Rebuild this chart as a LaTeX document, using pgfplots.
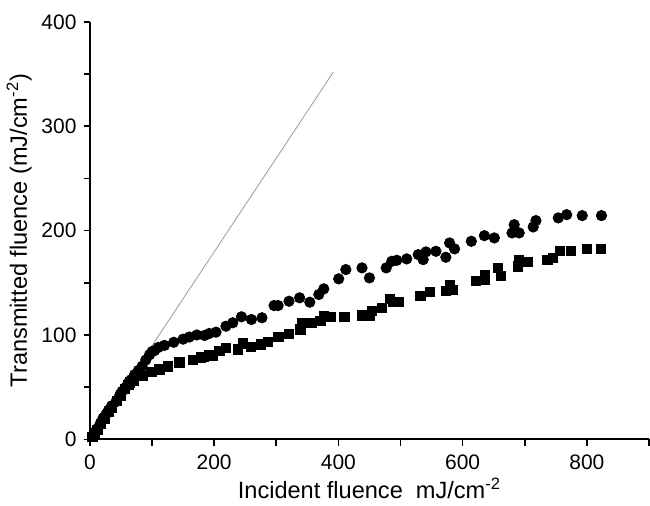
\documentclass[border=0pt]{standalone}
\usepackage{fontspec}
\setmainfont{Liberation Sans}
\usepackage{pgfplots}
\pgfplotsset{compat=1.18}
\begin{document}
\begin{tikzpicture}
\begin{axis}[
  scale only axis,
  width=280pt, height=209pt,
  xmin=0, xmax=900, ymin=0, ymax=400,
  axis x line=bottom, axis y line=left,
  axis line style={-, line width=1pt},
  tick align=outside,
  xtick={0,200,400,600,800},
  minor xtick={100,300,500,700,900},
  ytick={0,100,200,300,400},
  minor ytick={50,150,250,350},
  major tick length=3.2pt, minor tick length=3.2pt,
  tick style={line width=0.8pt, black},
  /pgf/number format/assume math mode=true,
  ticklabel style={font=\fontsize{10.5}{12}\selectfont},
  xticklabel style={yshift=-1pt},
  xlabel={Incident fluence\ \ mJ/cm\textsuperscript{-2}},
  ylabel={Transmitted fluence (mJ/cm\textsuperscript{-2})},
  label style={font=\fontsize{11.8}{13}\selectfont},
  xlabel style={yshift=2.5pt},
  ylabel style={yshift=-2pt},
  clip=false,
]
\path (rel axis cs:0,1) ++(0,11pt);
\addplot[gray!80, line width=0.4pt] coordinates {(0,0) (392,352)};
% squares
\addplot[only marks, mark=square*, mark size=2.3pt, black] coordinates {
(4,2) (8,5) (12,9) (18,15) (24,20) (30,26) (36,30) (44,37) (50,42) (56,48) (62,52)
(64,54.5) (70,55.8) (85,60.6) (99,64.4) (112,67) (126,69.9) (144,73.7) (166,75.9) (179,78.5) (198,80.4)
(183.5,79.1) (192.5,80.4) (208.5,84.5) (219,87.7) (238,86.1) (246,91.9) (259,88.7) (275,90.9) (286,93.1)
(303.5,98.3) (320.5,101.4) (339,105.3) (342,111.7) (358,111.7) (371,113.2) (376.5,118) (387,117.4) (409.6,117.4)
(438,118.7) (451,118) (454,122.8) (470,126) (483,134.6) (487.5,131.4) (496.5,131.4) (532,137.1) (547,141)
(573,141.9) (579,148.3) (584.5,142.9) (621,152.2) (636,157.9) (636,153.1)
(656.5,164.3) (662,157) (688.5,165.8) (690,172.2) (704.5,169.7) (736.5,172.2) (745.6,173.9) (757,180.9)
(774,180.2) (799.5,182.5) (822,182.5)
};
% circles
\addplot[only marks, mark=*, mark size=2.6pt, black] coordinates {
(4,3) (8,7) (12,10) (16,14) (21,20) (26,24) (30,28) (35,32) (42,36) (48,42) (52,46) (58,50) (62,54)
(66,57) (72,62) (78,66) (84,70) (90,76) (96,81) (100,84) (104,85) (110,88) (120,90) (135,93) (150,96)
(160,98) (172,100)
(184.5,99.5) (192,101.4) (203,102.7) (219,108.4) (230,111.7) (244,117.4) (260,114.8) (277,116.5)
(296.5,128.2) (303,128.2) (320.5,132.3) (337.6,135.6) (354,131.4) (368.5,138.8) (376.5,144.2) (400.5,153.8)
(412,162.7) (438,164.3) (450,154.7) (477,164.3) (486,170.6) (494,171.6) (510,172.9) (528.5,177)
(536.5,172.2) (541,179.6) (557,180.2) (573,174.5) (579,188.2) (587,182.5) (614,189.8) (635,195.2)
(651,193) (679.5,197.8) (683,205.7) (691,197.8) (713.6,203.5) (718,209.6) (754,212.2) (767.5,215.3)
(792.5,214.4) (823.5,214.4)
};
\end{axis}
\end{tikzpicture}
\end{document}
